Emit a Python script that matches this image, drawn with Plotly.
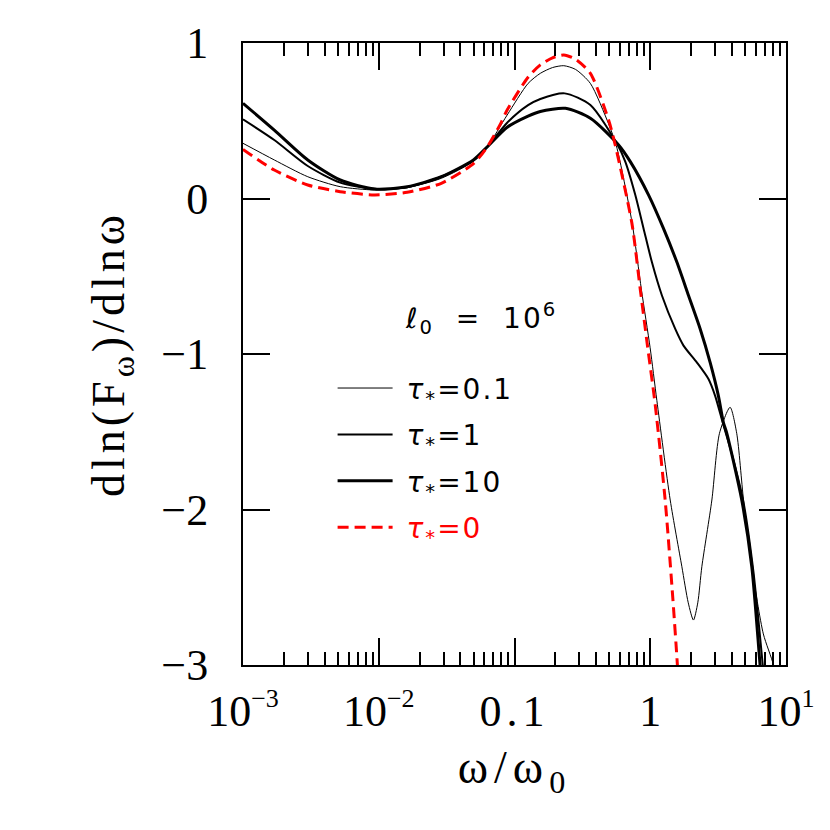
import plotly.graph_objects as go

# omega/omega_0 sample points and d ln F / d ln omega
x_tau0 = [0.001, 0.0017, 0.003, 0.0052, 0.0093, 0.0162, 0.0289, 0.0501, 0.0631, 0.0794, 0.0883,
          0.1259, 0.155, 0.1905, 0.2307, 0.2818, 0.3622, 0.4932, 0.5534, 0.7328,
          0.843, 0.955, 1.089, 1.288, 1.469, 1.585, 1.66]
y_tau0 = [0.316, 0.183, 0.087, 0.044, 0.023, 0.040, 0.098, 0.226, 0.333, 0.485, 0.569,
          0.780, 0.859, 0.905, 0.923, 0.895, 0.805, 0.505, 0.340, -0.160,
          -0.580, -0.950, -1.330, -1.940, -2.580, -3.0, -3.3]

x_tau01 = [0.001, 0.0017, 0.003, 0.0052, 0.0093, 0.0162, 0.0289, 0.0501, 0.0631, 0.0883,
           0.1259, 0.155, 0.1905, 0.2307, 0.2818, 0.3622, 0.4932, 0.5623, 0.7328,
           0.862, 0.998, 1.119, 1.403, 1.710, 1.905, 2.080, 2.239, 2.399, 2.844, 3.236,
           3.873, 4.335, 4.864, 5.598, 6.808, 8.072, 8.6]
y_tau01 = [0.355, 0.248, 0.140, 0.076, 0.055, 0.070, 0.130, 0.240, 0.333, 0.537,
           0.740, 0.805, 0.842, 0.854, 0.830, 0.740, 0.480, 0.340, -0.150,
           -0.590, -0.960, -1.300, -1.939, -2.368, -2.600, -2.711, -2.600, -2.368, -1.939, -1.510,
           -1.343, -1.510, -1.939, -2.368, -2.800, -3.0, -3.2]

x_tau1 = [0.001, 0.0017, 0.003, 0.0052, 0.0093, 0.0162, 0.0289, 0.0501, 0.0631, 0.0883,
          0.1259, 0.155, 0.2344, 0.3622, 0.5754, 0.6546, 0.7762, 0.8933, 1.028,
          1.219, 1.528, 1.758, 2.203, 2.685, 3.006, 3.420, 3.981, 4.853, 5.754, 6.745, 7.3]
y_tau1 = [0.509, 0.376, 0.209, 0.102, 0.062, 0.072, 0.140, 0.245, 0.333, 0.487,
          0.600, 0.640, 0.676, 0.601, 0.344, 0.237, 0.022, -0.194, -0.409,
          -0.624, -0.839, -0.946, -1.054, -1.161, -1.269, -1.441, -1.640, -1.950, -2.400, -3.0, -3.3]

x_tau10 = [0.001, 0.0017, 0.003, 0.0052, 0.0093, 0.0162, 0.0289, 0.0501, 0.0631, 0.0883,
           0.1259, 0.155, 0.2371, 0.3622, 0.5848, 0.7129, 0.9727, 1.253,
           1.570, 1.914, 2.333, 2.761, 3.177, 3.459, 3.664, 4.721, 5.598, 6.442, 6.9]
y_tau10 = [0.612, 0.440, 0.248, 0.119, 0.061, 0.075, 0.140, 0.250, 0.333, 0.458,
           0.530, 0.560, 0.580, 0.516, 0.344, 0.237, 0.022, -0.194,
           -0.409, -0.624, -0.839, -1.054, -1.269, -1.441, -1.510, -1.939, -2.368, -3.0, -3.3]

x_ticks = [0.001, 0.01, 0.1, 1, 10]
x_ticktext = ["10<sup><span style='font-size:26px'>\u22123</span></sup>",
              "10<sup><span style='font-size:26px'>\u22122</span></sup>",
              "<span style='letter-spacing:5px'>0.1</span>", "1",
              "10<sup><span style='font-size:26px'>1</span></sup>"]
y_ticks = [1, 0, -1, -2, -3]
y_ticktext = ["1", "0", "\u22121", "\u22122", "\u22123"]
x_minor = [m * 10 ** e for e in (-3, -2, -1, 0) for m in range(2, 10)]

SERIF = "Liberation Serif"
SANS = "DejaVu Sans"
SPACED = "letter-spacing:2px"


def tau_label(val, color="black"):
    return (f"\u00a0<span style='color:{color};{SPACED}'>"
            f"<i>\u03c4</i><sub>*</sub>={val}</span>")


fig = go.Figure()

fig.add_trace(go.Scatter(x=x_tau01, y=y_tau01, mode="lines", name=tau_label("0.1"),
                         legendgroup="a", line=dict(color="black", width=1, shape="spline", smoothing=0.7)))
fig.add_trace(go.Scatter(x=x_tau1, y=y_tau1, mode="lines", name=tau_label("1"),
                         legendgroup="b", line=dict(color="black", width=2, shape="spline", smoothing=0.7)))
fig.add_trace(go.Scatter(x=x_tau10, y=y_tau10, mode="lines", name=tau_label("10"),
                         legendgroup="c", line=dict(color="black", width=3, shape="spline", smoothing=0.7)))
fig.add_trace(go.Scatter(x=x_tau0, y=y_tau0, mode="lines", name=tau_label("0", "#ff0000"),
                         legendgroup="d",
                         line=dict(color="#ff0000", width=3, dash="11px,6px", shape="spline", smoothing=0.7)))

fig.add_annotation(text=f"<span style='{SPACED}'><i>\u2113</i><sub>0</sub>\u00a0\u00a0=\u00a0\u00a010<sup>6</sup></span>",
                   xref="paper", yref="paper",
                   x=0.295, y=0.557, xanchor="left", yanchor="middle", showarrow=False,
                   font=dict(family=SANS, size=28, color="black"))

fig.update_layout(
    width=830, height=830,
    margin=dict(l=235, r=52, t=35, b=173),
    plot_bgcolor="white", paper_bgcolor="white",
    showlegend=True,
    legend=dict(x=0.165, y=0.485, xanchor="left", yanchor="top", bgcolor="rgba(0,0,0,0)",
                itemwidth=55,
                font=dict(family=SANS, size=28, color="black"), tracegroupgap=7),
    xaxis=dict(type="log", range=[-3, 1], tickvals=x_ticks, ticktext=x_ticktext,
               ticks="inside", ticklen=27, tickwidth=2, tickcolor="black",
               showline=True, linewidth=2, linecolor="black", mirror="allticks",
               showgrid=False, zeroline=False, ticklabelstandoff=6,
               minor=dict(tickvals=x_minor, ticks="inside", ticklen=13, tickwidth=2,
                          tickcolor="black", showgrid=False),
               tickfont=dict(family=SERIF, size=44, color="black"),
               title=dict(text="<span style='letter-spacing:6px'>\u03c9/\u03c9<sub>0</sub></span>",
                          font=dict(family=SERIF, size=46, color="black"), standoff=16)),
    yaxis=dict(range=[-3, 1], tickvals=y_ticks, ticktext=y_ticktext,
               ticks="inside", ticklen=27, tickwidth=2, tickcolor="black",
               showline=True, linewidth=2, linecolor="black", mirror="allticks",
               showgrid=False, zeroline=False, ticklabelstandoff=24,
               tickfont=dict(family=SERIF, size=44, color="black"),
               title=dict(text="<span style='letter-spacing:4px'>dln(F<sub>\u03c9</sub>)/dln\u03c9</span>",
                          font=dict(family=SERIF, size=46, color="black"), standoff=22)),
)

fig.write_html("out.html")
